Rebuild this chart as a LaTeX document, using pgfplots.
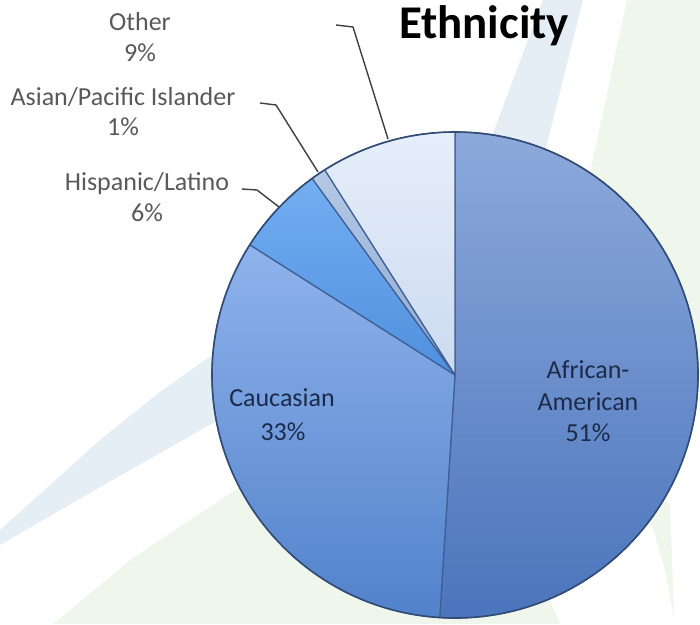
\documentclass[border=0pt]{standalone}
\usepackage{pgfplots}
\pgfplotsset{compat=1.18}
\usepackage{fontspec}
\setmainfont{Carlito}

\definecolor{bgblue}{HTML}{E5EDF5}
\definecolor{bggreen}{HTML}{EFF6EC}
\definecolor{edge}{HTML}{3F5F94}
\definecolor{lbl}{HTML}{595959}
\definecolor{inlbl}{HTML}{1C2B4A}
\definecolor{leader}{HTML}{404040}
\definecolor{afrtop}{HTML}{8DA9DB}
\definecolor{afrbot}{HTML}{4A74BC}
\definecolor{cautop}{HTML}{8FB3EC}
\definecolor{caubot}{HTML}{5282CB}
\definecolor{hisptop}{HTML}{74AEF2}
\definecolor{hispbot}{HTML}{4F8FDE}
\definecolor{asiatop}{HTML}{B5C9E6}
\definecolor{asiabot}{HTML}{8EA8D0}
\definecolor{othtop}{HTML}{E6EEFA}
\definecolor{othbot}{HTML}{CCDAF0}

% pie radius: 243 px at 0.02 cm per px
\newcommand{\pieR}{4.86cm}
% #1 cumulative start (%), #2 share (%), #3 top colour, #4 bottom colour
\newcommand{\pieslice}[4]{%
  \path[top color=#3, bottom color=#4, draw=edge, line width=0.7pt, line join=round]
    (axis cs:455,249) -- ++({90-3.6*#1}:\pieR)
    arc[start angle={90-3.6*#1}, end angle={90-3.6*(#1+#2)}, radius=\pieR] -- cycle;
}
\newcommand{\lbl}[4][lbl]{\node[anchor=base, text=#1, font=\fontsize{14.8}{17}\selectfont] at (axis cs:#2,#3) {#4};}

\begin{document}
\begin{tikzpicture}
\begin{axis}[
    width=14cm, height=12.48cm,
    scale only axis,
    xmin=0, xmax=700, ymin=0, ymax=624,
    hide axis,
    clip=false,
]
% page and background star shapes
\fill[white] (axis cs:0,0) rectangle (axis cs:700,624);
\fill[bgblue] (axis cs:543,624) -- (axis cs:583,624) -- (axis cs:533,424) -- (axis cs:468,424) -- cycle;
\fill[bggreen] (axis cs:627,624) -- (axis cs:700,624) -- (axis cs:700,250) -- (axis cs:547,250) -- cycle;
\fill[bgblue] (axis cs:300,290) -- (axis cs:212,269) -- (axis cs:160,232) -- (axis cs:100,184)
    -- (axis cs:50,139) -- (axis cs:0,94) -- (axis cs:0,79) -- (axis cs:100,137)
    -- (axis cs:213,201) -- (axis cs:300,230) -- cycle;
\fill[bggreen] (axis cs:53,0) -- (axis cs:133,66) -- (axis cs:240,137) -- (axis cs:455,249)
    -- (axis cs:560,0) -- cycle;
\fill[bggreen] (axis cs:640,140) -- (axis cs:670,119) -- (axis cs:674,7) -- (axis cs:665,54) -- cycle;

% slices: start %, share %
\pieslice{0}{51}{afrtop}{afrbot}
\pieslice{51}{33}{cautop}{caubot}
\pieslice{84}{6}{hisptop}{hispbot}
\pieslice{90}{1}{asiatop}{asiabot}
\pieslice{91}{9}{othtop}{othbot}
\draw[edge!80!black, line width=0.9pt] (axis cs:455,249) circle[radius=\pieR];

% leader lines
\draw[leader, line width=0.8pt] (axis cs:336,599) -- (axis cs:353,597) -- (axis cs:388,485);
\draw[leader, line width=0.8pt] (axis cs:260,521) -- (axis cs:276,519) -- (axis cs:318,452);
\draw[leader, line width=0.8pt] (axis cs:242,435) -- (axis cs:257,434) -- (axis cs:279,417);

% outside labels
\lbl{140}{593}{Other}
\lbl{140}{562}{9\%}
\lbl{123}{519}{Asian/Pacific Islander}
\lbl{123}{489}{1\%}
\lbl{147}{434}{Hispanic/Latino}
\lbl{147}{403}{6\%}

% inside labels
\lbl[inlbl]{282}{218}{Caucasian}
\lbl[inlbl]{283}{184}{33\%}
\lbl[inlbl]{588}{246}{African-}
\lbl[inlbl]{588}{214}{American}
\lbl[inlbl]{588}{183}{51\%}

% title
\node[anchor=base, font=\fontsize{26.7}{30}\selectfont\bfseries] at (axis cs:484,585) {Ethnicity};
\end{axis}
\end{tikzpicture}
\end{document}
